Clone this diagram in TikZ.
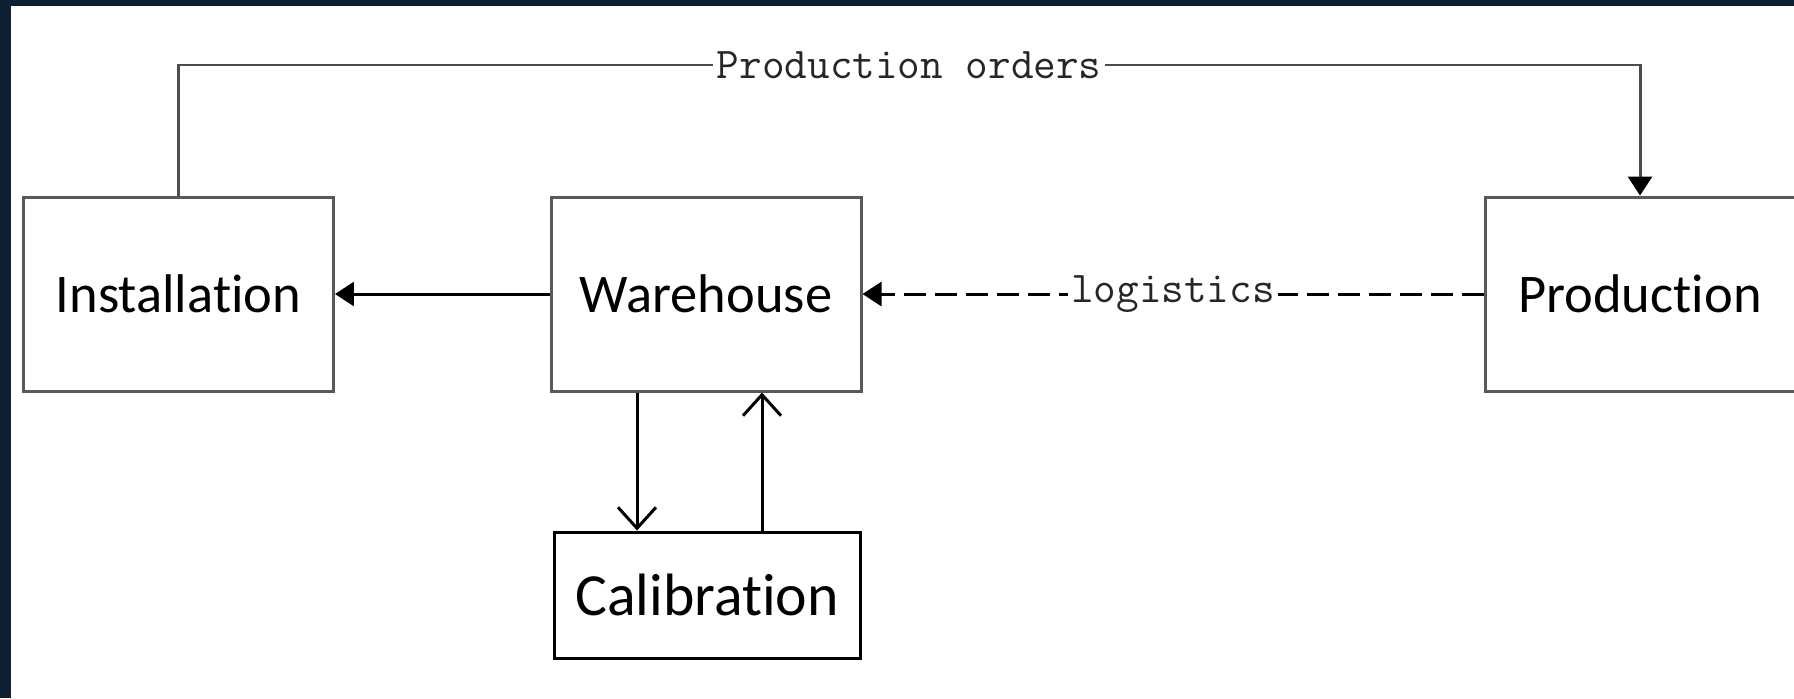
\documentclass[tikz,border=0pt]{standalone}
\usepackage{fontspec}
\setmainfont{Carlito}[Ligatures={NoCommon,NoRequired,NoContextual}]
\usetikzlibrary{arrows.meta}
\definecolor{navy}{HTML}{0D1F31}
\tikzset{
every picture/.style={
line width=1.7pt
}}
\tikzset{
  box/.style={draw=black!65, minimum width=6.2cm, minimum height=3.88cm,
    font=\fontsize{31}{36}\selectfont},
  flow/.style={-{Triangle[length=0.38cm,width=0.48cm,black]}},
  calarrow/.style={-{Straight Barb[length=0.42cm,width=0.76cm]}},
  edgelabel/.style={fill=white, inner sep=2pt, text=black!85,
    font=\ttfamily\fontsize{25}{28}\selectfont}
}

\begin{document}
\begin{tikzpicture}
  \useasboundingbox (0,0) rectangle (35.88,-13.96);
  \fill[navy] (0,0) rectangle (35.88,-13.96);
  \fill[white] (0.22,-0.12) rectangle (35.88,-13.96);

  \node[box] (inst) at (3.57,-5.88) {Installation};
  \node[box] (ware) at (14.12,-5.88) {Warehouse};
  \node[box] (prod) at (32.8,-5.88) {Production};
  \node[box, draw=black, minimum width=6.12cm, minimum height=2.52cm,
    font=\fontsize{34}{40}\selectfont] (calib) at (14.14,-11.9) {Calibration};

  % orders run over the top
  \coordinate (ordtop) at (3.57,-1.3);
  \draw[flow, draw=black!70] (inst.north) -- (ordtop)
    -- node[edgelabel] {Production orders} (ordtop -| prod.north) -- (prod.north);

  \draw[flow] (ware) -- (inst);
  \draw[flow, dash pattern=on 0.43cm off 0.19cm] (prod) -- node[edgelabel] {logistics} (ware);

  % to calibration and back
  \draw[calarrow] ([xshift=-1.38cm]ware.south) -- ([xshift=-1.38cm]ware.south |- calib.north);
  \draw[calarrow] ([xshift=1.12cm]ware.south |- calib.north) -- ([xshift=1.12cm]ware.south);
\end{tikzpicture}
\end{document}
